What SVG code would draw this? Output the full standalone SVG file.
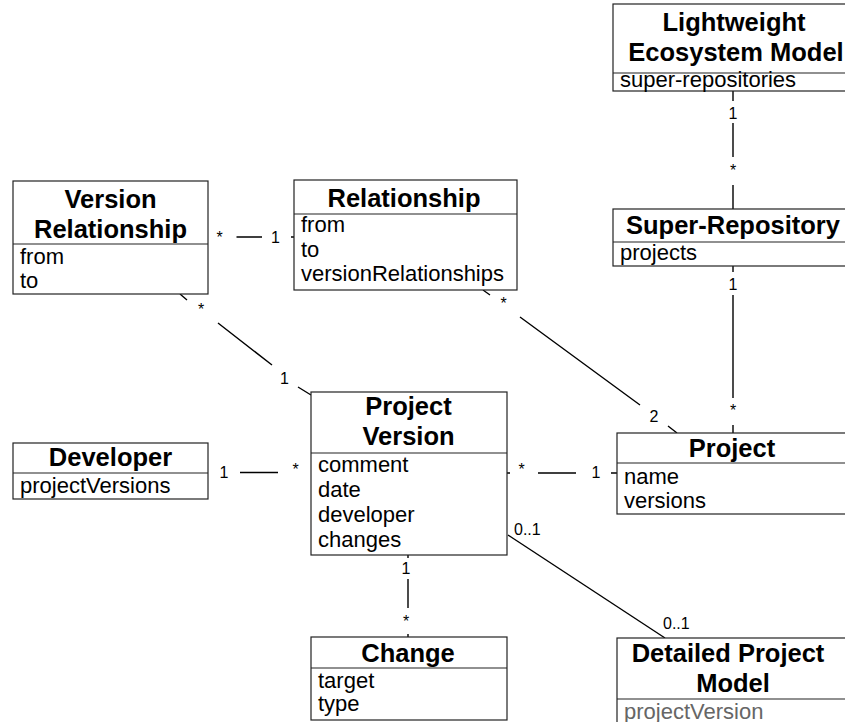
<svg xmlns="http://www.w3.org/2000/svg" width="845" height="722" viewBox="0 0 845 722">
  <style>
    .box { fill: #fff; stroke: #222; stroke-width: 1.2; }
    .div { stroke: #222; stroke-width: 1.2; }
    .title { font-family: "Liberation Sans", Arial, Helvetica, sans-serif; font-weight: bold; font-size: 25.5px; fill: #000; text-anchor: middle; }
    .attr { font-family: "Liberation Sans", Arial, Helvetica, sans-serif; font-size: 22px; fill: #000; }
    .attr.dim { fill: #666; }
    .conn { stroke: #000; stroke-width: 1.4; fill: none; }
    .mult { font-family: "Liberation Sans", Arial, Helvetica, sans-serif; font-size: 16px; fill: #000; }
    .mid { text-anchor: middle; }
  </style>
  <rect width="845" height="722" fill="#fff"/>

  <!-- associations, drawn with gaps where the multiplicities sit -->
  <g id="connectors">
    <!-- Lightweight Ecosystem Model 1 - * Super-Repository -->
    <path class="conn" d="M733 91 V101 M733 123 V157 M733 185 V209"/>
    <text class="mult mid" x="733" y="119">1</text>
    <text class="mult mid" x="733" y="176">*</text>

    <!-- Super-Repository 1 - * Project -->
    <path class="conn" d="M733 266 V272 M733 295 V398 M733 425 V433"/>
    <text class="mult mid" x="733" y="290">1</text>
    <text class="mult mid" x="733" y="415.5">*</text>

    <!-- Relationship * - 2 Project -->
    <path class="conn" d="M483 290 L490 295 M520 317 L640 405 M668 426 L677 433"/>
    <text class="mult mid" x="503.5" y="309">*</text>
    <text class="mult mid" x="654" y="422">2</text>

    <!-- Version Relationship * - 1 Relationship -->
    <path class="conn" d="M236.5 237 H262 M291 237 H294"/>
    <text class="mult mid" x="219.5" y="242.5">*</text>
    <text class="mult mid" x="275.5" y="242.5">1</text>

    <!-- Version Relationship * - 1 Project Version -->
    <path class="conn" d="M180 294 L187 300 M218 323 L272 365 M298 387 L311 395"/>
    <text class="mult mid" x="201" y="314.5">*</text>
    <text class="mult mid" x="284.5" y="383.5">1</text>

    <!-- Developer 1 - * Project Version -->
    <path class="conn" d="M240 472.5 H278"/>
    <text class="mult mid" x="224" y="478">1</text>
    <text class="mult mid" x="295.5" y="475">*</text>

    <!-- Project Version * - 1 Project -->
    <path class="conn" d="M507 473 H510 M538 473 H576 M611 473 H617"/>
    <text class="mult mid" x="521.5" y="475">*</text>
    <text class="mult mid" x="596" y="478">1</text>

    <!-- Project Version 1 - * Change -->
    <path class="conn" d="M408 555 V558 M408 579 V608 M408 634 V637"/>
    <text class="mult mid" x="406" y="574">1</text>
    <text class="mult mid" x="406" y="626.5">*</text>

    <!-- Project Version 0..1 - 0..1 Detailed Project Model -->
    <path class="conn" d="M508 535 L665 638"/>
    <text class="mult" x="514" y="535">0..1</text>
    <text class="mult" x="663" y="629">0..1</text>
  </g>

  <g id="lightweight-ecosystem-model">
    <rect class="box" x="613" y="4" width="250" height="87"/>
    <line class="div" x1="613" y1="73" x2="863" y2="73"/>
    <text class="title" x="734" y="31">Lightweight</text>
    <text class="title" x="736" y="61">Ecosystem Model</text>
    <text class="attr" x="620" y="87">super-repositories</text>
  </g>

  <g id="super-repository">
    <rect class="box" x="613" y="209" width="250" height="57"/>
    <line class="div" x1="613" y1="242" x2="863" y2="242"/>
    <text class="title" x="733" y="233.5">Super-Repository</text>
    <text class="attr" x="620" y="260">projects</text>
  </g>

  <g id="version-relationship">
    <rect class="box" x="13" y="181" width="195" height="113"/>
    <line class="div" x1="13" y1="244" x2="208" y2="244"/>
    <text class="title" x="110.5" y="207.5">Version</text>
    <text class="title" x="110.5" y="238">Relationship</text>
    <text class="attr" x="20" y="263.5">from</text>
    <text class="attr" x="20" y="287.5">to</text>
  </g>

  <g id="relationship">
    <rect class="box" x="294" y="180" width="223" height="110"/>
    <line class="div" x1="294" y1="214" x2="517" y2="214"/>
    <text class="title" x="404" y="207">Relationship</text>
    <text class="attr" x="301" y="232">from</text>
    <text class="attr" x="301" y="256.5">to</text>
    <text class="attr" x="301" y="281">versionRelationships</text>
  </g>

  <g id="project-version">
    <rect class="box" x="311" y="392" width="196" height="163"/>
    <line class="div" x1="311" y1="453" x2="507" y2="453"/>
    <text class="title" x="408.5" y="415">Project</text>
    <text class="title" x="408.5" y="445">Version</text>
    <text class="attr" x="318" y="472">comment</text>
    <text class="attr" x="318" y="497">date</text>
    <text class="attr" x="318" y="522">developer</text>
    <text class="attr" x="318" y="547">changes</text>
  </g>

  <g id="developer">
    <rect class="box" x="13" y="443" width="195" height="56"/>
    <line class="div" x1="13" y1="473" x2="208" y2="473"/>
    <text class="title" x="110.5" y="466">Developer</text>
    <text class="attr" x="20" y="493">projectVersions</text>
  </g>

  <g id="project">
    <rect class="box" x="617" y="433" width="240" height="81"/>
    <line class="div" x1="617" y1="463" x2="857" y2="463"/>
    <text class="title" x="732" y="457">Project</text>
    <text class="attr" x="624" y="483.5">name</text>
    <text class="attr" x="624" y="507.5">versions</text>
  </g>

  <g id="change">
    <rect class="box" x="311" y="637" width="196" height="83"/>
    <line class="div" x1="311" y1="668" x2="507" y2="668"/>
    <text class="title" x="408" y="662">Change</text>
    <text class="attr" x="318" y="687.5">target</text>
    <text class="attr" x="318" y="711">type</text>
  </g>

  <g id="detailed-project-model">
    <rect class="box" x="617" y="638" width="240" height="100"/>
    <line class="div" x1="617" y1="699" x2="857" y2="699"/>
    <text class="title" x="728" y="662">Detailed Project</text>
    <text class="title" x="733" y="692">Model</text>
    <text class="attr dim" x="624" y="718.5">projectVersion</text>
  </g>
</svg>
